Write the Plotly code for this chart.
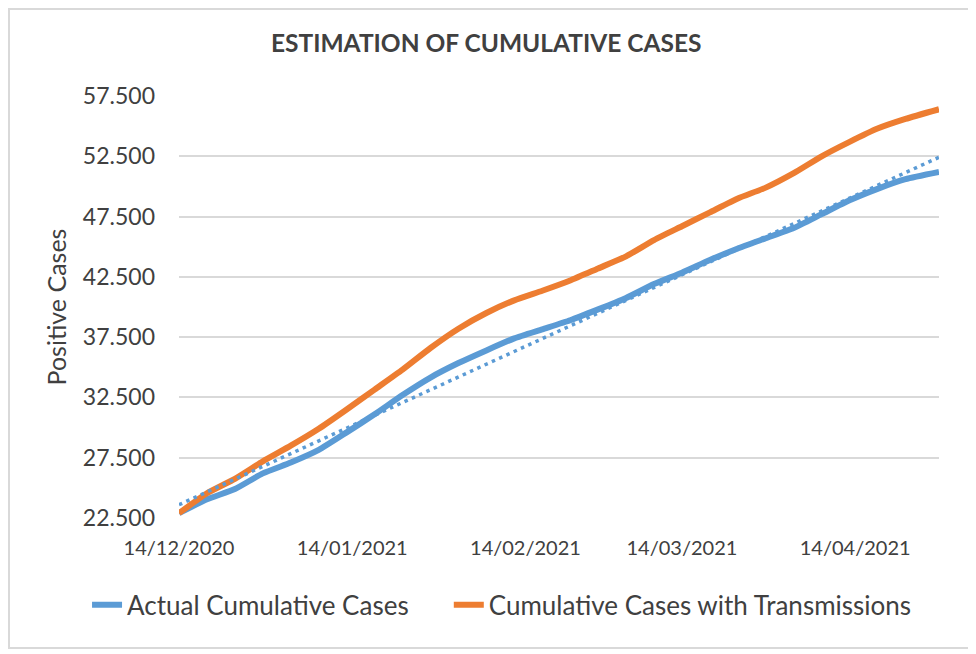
import numpy as np
import pandas as pd
import plotly.graph_objects as go

# sample dates (every 5 days, plus the last day)
dates = [
    "2020-12-14", "2020-12-19", "2020-12-24", "2020-12-29", "2021-01-03",
    "2021-01-08", "2021-01-13", "2021-01-18", "2021-01-23", "2021-01-28",
    "2021-02-02", "2021-02-07", "2021-02-12", "2021-02-17", "2021-02-22",
    "2021-02-27", "2021-03-04", "2021-03-09", "2021-03-14", "2021-03-19",
    "2021-03-24", "2021-03-29", "2021-04-03", "2021-04-08", "2021-04-13",
    "2021-04-18", "2021-04-23", "2021-04-29",
]
actual = [
    22900, 24050, 24900, 26200, 27100, 28150, 29600, 31100, 32700, 34150,
    35350, 36400, 37400, 38150, 38900, 39800, 40750, 41900, 42850, 43900,
    44850, 45700, 46550, 47700, 48850, 49800, 50600, 51200,
]
with_transmissions = [
    22900, 24550, 25750, 27200, 28500, 29900, 31500, 33150, 34800, 36600,
    38200, 39500, 40550, 41350, 42200, 43200, 44200, 45550, 46700, 47850,
    49000, 49900, 51100, 52500, 53700, 54800, 55600, 56400,
]
tick_dates = ["2020-12-14", "2021-01-14", "2021-02-14", "2021-03-14", "2021-04-14"]

BLUE = "#5B9BD5"
ORANGE = "#ED7D31"
TEXT = "#404040"
FONT = "Lato"

x = pd.to_datetime(dates)

# linear trendline of the actual cases (like Excel's)
days = (x - x[0]).days.to_numpy()
slope, intercept = np.polyfit(days, actual, 1)
trend_x = [x[0], x[-1]]
trend_y = [intercept, intercept + slope * days[-1]]

fig = go.Figure()
fig.add_trace(go.Scatter(
    x=x, y=actual, mode="lines", name="Actual Cumulative Cases",
    line=dict(color=BLUE, width=6, shape="spline", smoothing=0.5),
    legend="legend",
))
fig.add_trace(go.Scatter(
    x=x, y=with_transmissions, mode="lines", name="Cumulative Cases with Transmissions",
    line=dict(color=ORANGE, width=6, shape="spline", smoothing=0.5),
    legend="legend2",
))
fig.add_trace(go.Scatter(
    x=trend_x, y=trend_y, mode="lines", showlegend=False, hoverinfo="skip",
    line=dict(color=BLUE, width=3.5, dash="3.5px,4.5px"),
))

legend_font = dict(family=FONT, size=26, color=TEXT)

# the page body adds 8px, so the margins are 8px smaller than the target
fig.update_layout(
    width=976, height=654,
    margin=dict(l=171, r=45, t=88, b=144, autoexpand=False),
    paper_bgcolor="white", plot_bgcolor="white",
    separators=",.",
    font=dict(family=FONT, color=TEXT, size=22),
    title=dict(
        text="<b>ESTIMATION OF CUMULATIVE CASES</b>",
        x=0.490, xanchor="center", y=0.946, yanchor="middle",
        font=dict(family=FONT, size=24.5, color=TEXT),
    ),
    legend=dict(
        orientation="h", x=-0.121, xanchor="left", y=-0.206, yanchor="middle",
        font=legend_font,
    ),
    legend2=dict(
        orientation="h", x=0.355, xanchor="left", y=-0.206, yanchor="middle",
        font=legend_font,
    ),
    showlegend=True,
)
fig.update_xaxes(
    range=[x[0], x[-1]],
    tickvals=pd.to_datetime(tick_dates), tickformat="%d/%m/%Y",
    showgrid=False, showline=False, zeroline=False,
    ticks="", ticklabelstandoff=16,
    tickfont=dict(family=FONT, size=20, color=TEXT),
)
fig.update_yaxes(
    range=[22500, 57500], tick0=22500, dtick=5000, tickformat=",d",
    showgrid=True, gridcolor="#D9D9D9", gridwidth=1.5,
    showline=False, zeroline=False, ticks="", ticklabelstandoff=23,
    tickfont=dict(family=FONT, size=23, color=TEXT),
    title=dict(text="Positive Cases", standoff=9, font=dict(family=FONT, size=25, color=TEXT)),
)

# light grey frame round the whole chart
fig.add_shape(
    type="rect", xref="paper", yref="paper",
    x0=-0.2237, x1=1.0408, y0=-0.3081, y1=1.2062,
    line=dict(color="#D9D9D9", width=2), layer="below",
)

fig.write_html("out.html")
